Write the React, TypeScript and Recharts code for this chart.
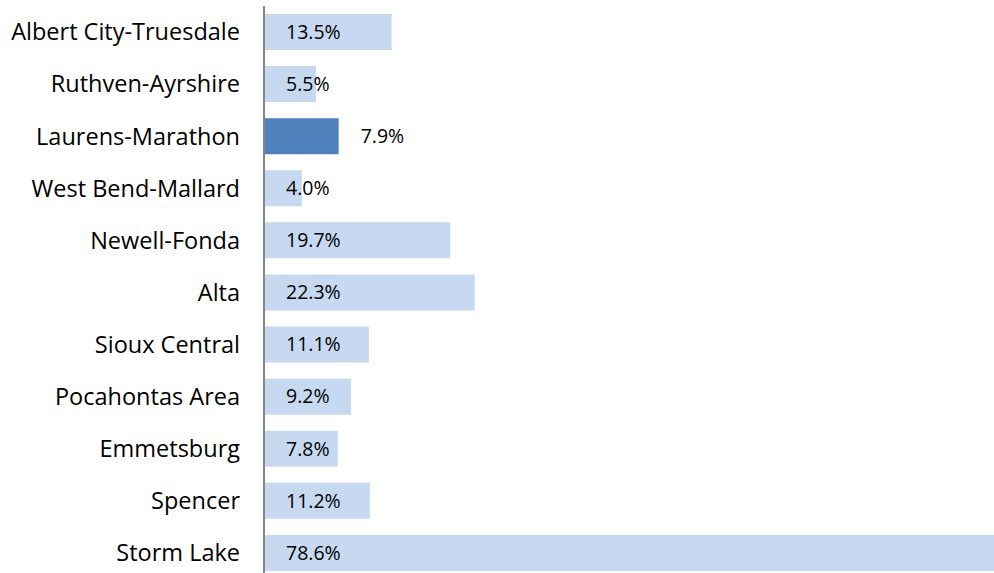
import React from "react";
import { BarChart, Bar, XAxis, YAxis, Cell, LabelList } from "recharts";

const categories = [
  "Albert City-Truesdale",
  "Ruthven-Ayrshire",
  "Laurens-Marathon",
  "West Bend-Mallard",
  "Newell-Fonda",
  "Alta",
  "Sioux Central",
  "Pocahontas Area",
  "Emmetsburg",
  "Spencer",
  "Storm Lake",
];
const values = [13.5, 5.5, 7.9, 4.0, 19.7, 22.3, 11.1, 9.2, 7.8, 11.2, 78.6];
const highlighted = "Laurens-Marathon";

const data = categories.map((name, i) => ({ name, value: values[i] }));

const LIGHT = "#C6D9F1";
const DARK = "#4F81BD";
const FONT = "'Open Sans', Lato, sans-serif";

const ValueLabel = (props: any) => {
  const { x, y, width, height, value, index } = props;
  const isHi = categories[index] === highlighted;
  const tx = isHi ? x + width + 22 : x + 22;
  return (
    <text
      x={tx}
      y={y + height / 2}
      dy="0.35em"
      textAnchor="start"
      fontFamily={FONT}
      fontSize={19.5}
      fill="#000"
    >
      {`${Number(value).toFixed(1)}%`}
    </text>
  );
};

export default function App() {
  return (
    <div
      style={{
        position: "absolute",
        left: 0,
        top: 0,
        width: 994,
        height: 573,
        overflow: "hidden",
        background: "#fff",
      }}
    >
      <BarChart
        width={1020}
        height={579}
        data={data}
        layout="vertical"
        margin={{ top: 6, right: 0, bottom: 0, left: 0 }}
      >
        <XAxis type="number" domain={[0, 80]} hide />
        <YAxis
          type="category"
          dataKey="name"
          width={264}
          axisLine={{ stroke: "#868686", strokeWidth: 2 }}
          tickLine={false}
          tickMargin={18}
          interval={0}
          tick={{ fontFamily: FONT, fontSize: 23.5, fill: "#000" }}
        />
        <Bar dataKey="value" barSize={36} isAnimationActive={false}>
          {data.map((d) => (
            <Cell key={d.name} fill={d.name === highlighted ? DARK : LIGHT} />
          ))}
          <LabelList dataKey="value" content={<ValueLabel />} />
        </Bar>
      </BarChart>
    </div>
  );
}
